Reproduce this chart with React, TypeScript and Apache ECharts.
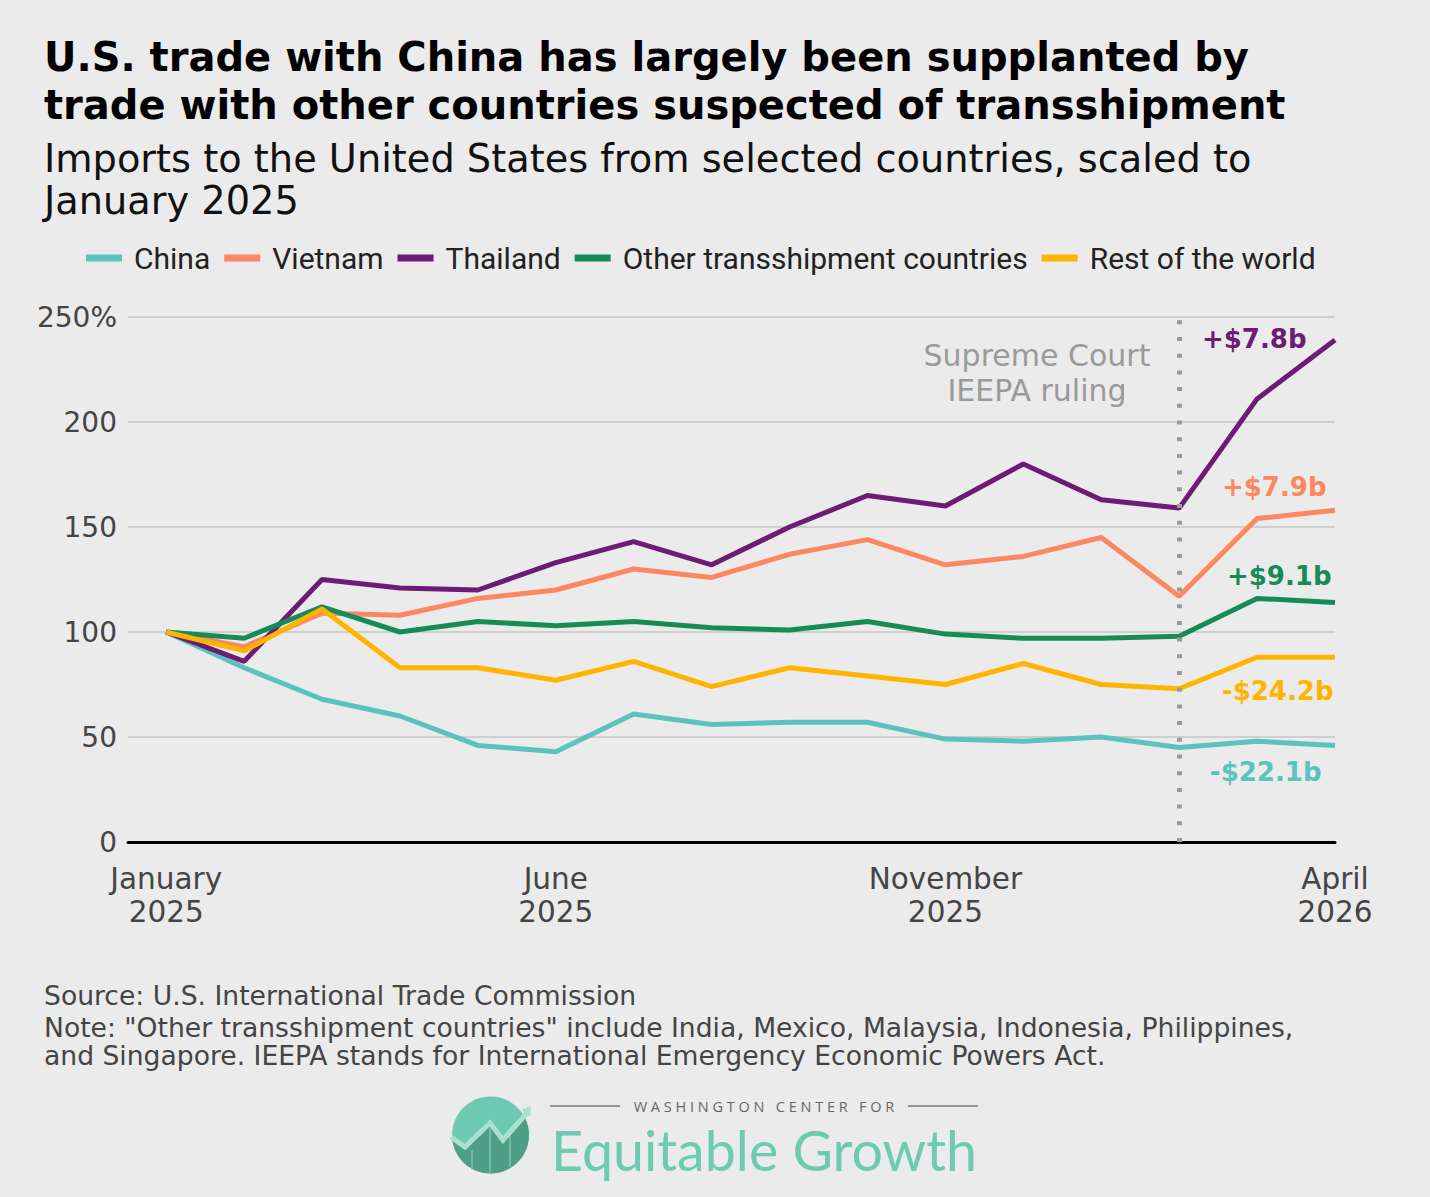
import React, { useEffect, useRef } from 'react';
import * as echarts from 'echarts';

// Months from January 2025 (index 0) to April 2026 (index 15)
const months = [
  'Jan 2025', 'Feb 2025', 'Mar 2025', 'Apr 2025', 'May 2025', 'Jun 2025',
  'Jul 2025', 'Aug 2025', 'Sep 2025', 'Oct 2025', 'Nov 2025', 'Dec 2025',
  'Jan 2026', 'Feb 2026', 'Mar 2026', 'Apr 2026',
];

const seriesNames = ['China', 'Vietnam', 'Thailand', 'Other transshipment countries', 'Rest of the world'];
const seriesColors = ['#5bc2be', '#fc8762', '#6d1b74', '#178b57', '#ffb500'];

const china = [100, 83, 68, 60, 46, 43, 61, 56, 57, 57, 49, 48, 50, 45, 48, 46];
const vietnam = [100, 93, 109, 108, 116, 120, 130, 126, 137, 144, 132, 136, 145, 117, 154, 158];
const thailand = [100, 86, 125, 121, 120, 133, 143, 132, 150, 165, 160, 180, 163, 159, 211, 239];
const otherTrans = [100, 97, 112, 100, 105, 103, 105, 102, 101, 105, 99, 97, 97, 98, 116, 114];
const restWorld = [100, 91, 111, 83, 83, 77, 86, 74, 83, 79, 75, 85, 75, 73, 88, 88];
const allSeries = [china, vietnam, thailand, otherTrans, restWorld];

const endLabels = ['-$22.1b', '+$7.9b', '+$7.8b', '+$9.1b', '-$24.2b'];
const endLabelDist = [13, 8, 28, 3, 1];
const endLabelDy = [27, -23, -1, -27, 34];

const xTickIndex = [0, 5, 10, 15];
const xTickLabels = ['January\n2025', 'June\n2025', 'November\n2025', 'April\n2026'];
const rulingIndex = 13; // February 2026

const titleLines = [
  'U.S. trade with China has largely been supplanted by',
  'trade with other countries suspected of transshipment',
];
const subtitleLines = [
  'Imports to the United States from selected countries, scaled to',
  'January 2025',
];
const noteLines = [
  'Source: U.S. International Trade Commission',
  'Note: "Other transshipment countries" include India, Mexico, Malaysia, Indonesia, Philippines,',
  'and Singapore. IEEPA stands for International Emergency Economic Powers Act.',
];

const FONT = '"Open Sans"';
const WIDE = '"DejaVu Sans"';

function logoGraphics() {
  const cx = 490.5, cy = 1135, r = 38.5;
  const zig = [[452, 1138], [465, 1147], [490, 1123], [503, 1140], [525, 1118]];
  const a1 = Math.atan2(1118 - cy, 525 - cx);
  const a2 = Math.atan2(1138 - cy, 452 - cx);
  const arc: number[][] = [];
  const steps = 30;
  for (let i = 0; i <= steps; i++) {
    const a = a1 + ((a2 - a1) * i) / steps;
    arc.push([cx + r * Math.cos(a), cy + r * Math.sin(a)]);
  }
  const lower = zig.concat(arc.slice(1, -1));
  return [
    { type: 'circle', shape: { cx, cy, r }, style: { fill: '#6dcab1' }, z: 10 },
    { type: 'polygon', shape: { points: lower }, style: { fill: '#4f9f87' }, z: 11 },
    { type: 'line', shape: { x1: 472, y1: 1150, x2: 472, y2: 1170 }, style: { stroke: '#7cc3ad', lineWidth: 1.5 }, z: 12 },
    { type: 'line', shape: { x1: 490, y1: 1128, x2: 490, y2: 1173 }, style: { stroke: '#7cc3ad', lineWidth: 1.5 }, z: 12 },
    { type: 'line', shape: { x1: 510, y1: 1136, x2: 510, y2: 1167 }, style: { stroke: '#7cc3ad', lineWidth: 1.5 }, z: 12 },
    { type: 'polyline', shape: { points: [[451, 1137], [465, 1147], [490, 1123], [503, 1140], [527, 1113]] }, style: { stroke: '#a8e2cf', lineWidth: 5, fill: 'none' }, z: 13 },
    { type: 'polygon', shape: { points: [[521, 1110], [531, 1106], [530, 1117]] }, style: { fill: '#a8e2cf' }, z: 13 },
    { type: 'line', shape: { x1: 550, y1: 1106, x2: 620, y2: 1106 }, style: { stroke: '#777', lineWidth: 1.5 }, z: 10 },
    { type: 'line', shape: { x1: 908, y1: 1106, x2: 978, y2: 1106 }, style: { stroke: '#777', lineWidth: 1.5 }, z: 10 },
    {
      type: 'text', x: 764, y: 1106, z: 10,
      style: { text: 'W A S H I N G T O N   C E N T E R   F O R', font: '14.5px ' + FONT, fill: '#666', align: 'center', verticalAlign: 'middle' },
    },
    {
      type: 'text', x: 551, y: 1149, z: 10,
      style: { text: 'Equitable Growth', font: '55.5px Lato', fill: '#6ccbb1', align: 'left', verticalAlign: 'middle' },
    },
  ];
}

function lineTexts(lines: string[], x: number, y0: number, step: number, font: string, fill: string) {
  return lines.map((t, i) => ({
    type: 'text', x, y: y0 + i * step,
    style: { text: t, font, fill, align: 'left', verticalAlign: 'middle' },
  }));
}

export default function App() {
  const ref = useRef<HTMLDivElement>(null);
  useEffect(() => {
    if (!ref.current) return;
    const chart = echarts.init(ref.current, undefined, { renderer: 'svg' });
    const series: any[] = allSeries.map((vals, i) => ({
      name: seriesNames[i],
      type: 'line',
      data: vals.map((v, j) => [j, v]),
      showSymbol: false,
      symbol: 'none',
      lineStyle: { width: 5, color: seriesColors[i] },
      itemStyle: { color: seriesColors[i] },
      emphasis: { disabled: true },
      markPoint: {
        symbol: 'circle',
        symbolSize: 1,
        silent: true,
        itemStyle: { color: 'rgba(0,0,0,0)' },
        data: [
          {
            coord: [vals.length - 1, vals[vals.length - 1]],
            label: {
              show: true,
              position: 'left',
              distance: endLabelDist[i],
              offset: [0, endLabelDy[i]],
              formatter: endLabels[i],
              fontFamily: WIDE,
              fontWeight: 'bold',
              fontSize: 26,
              color: seriesColors[i],
            },
          },
        ],
      },
    }));
    series[4].markLine = {
      symbol: 'none',
      silent: true,
      z: 20,
      label: { show: false },
      lineStyle: { color: '#9b9b9b', width: 5, type: [4, 12.7] },
      data: [{ xAxis: rulingIndex }],
    };

    chart.setOption({
      animation: false,
      backgroundColor: '#ebebeb',
      textStyle: { fontFamily: FONT },
      grid: { left: 128, right: 95, top: 317, bottom: 355, containLabel: false },
      legend: {
        left: 81,
        top: 238,
        icon: 'rect',
        itemWidth: 36,
        itemHeight: 7,
        itemGap: 14,
        data: seriesNames,
        selectedMode: false,
        textStyle: { fontSize: 30, color: '#222', fontFamily: 'Roboto', padding: [0, 0, 0, 7] },
      },
      xAxis: {
        type: 'value',
        min: -0.49,
        max: months.length - 1,
        splitLine: { show: false },
        axisTick: { show: false },
        axisLine: { show: true, lineStyle: { color: '#000', width: 3 } },
        axisLabel: {
          customValues: xTickIndex,
          formatter: (v: number) => xTickLabels[xTickIndex.indexOf(v)] ?? '',
          fontSize: 29.5,
          lineHeight: 33,
          color: '#444',
          margin: 20,
          fontFamily: WIDE,
        },
      },
      yAxis: {
        type: 'value',
        min: 0,
        max: 250,
        interval: 50,
        axisLine: { show: false },
        axisTick: { show: false },
        splitLine: { lineStyle: { color: '#cfcfcf', width: 2 } },
        axisLabel: {
          formatter: (v: number) => (v === 250 ? '250%' : String(v)),
          fontSize: 28,
          color: '#444',
          margin: 11,
          fontFamily: WIDE,
        },
      },
      graphic: [
        ...lineTexts(titleLines, 44, 57, 48, 'bold 40px ' + WIDE, '#000'),
        ...lineTexts(subtitleLines, 44, 158, 42, '38.3px ' + WIDE, '#111'),
        {
          type: 'text', x: 1037, y: 355, z: 20,
          style: { text: 'Supreme Court', font: '30px ' + WIDE, fill: '#9a9a9a', align: 'center', verticalAlign: 'middle' },
        },
        {
          type: 'text', x: 1037, y: 390, z: 20,
          style: { text: 'IEEPA ruling', font: '30px ' + WIDE, fill: '#9a9a9a', align: 'center', verticalAlign: 'middle' },
        },
        ...lineTexts(noteLines.slice(0, 1), 44, 995, 32, '26.6px ' + WIDE, '#444'),
        ...lineTexts(noteLines.slice(1), 44, 1027, 28, '26.6px ' + WIDE, '#444'),
        ...logoGraphics(),
      ],
      series,
    });
    return () => chart.dispose();
  }, []);
  return <div ref={ref} style={{ position: 'absolute', left: 0, top: 0, width: 1430, height: 1197 }} />;
}
